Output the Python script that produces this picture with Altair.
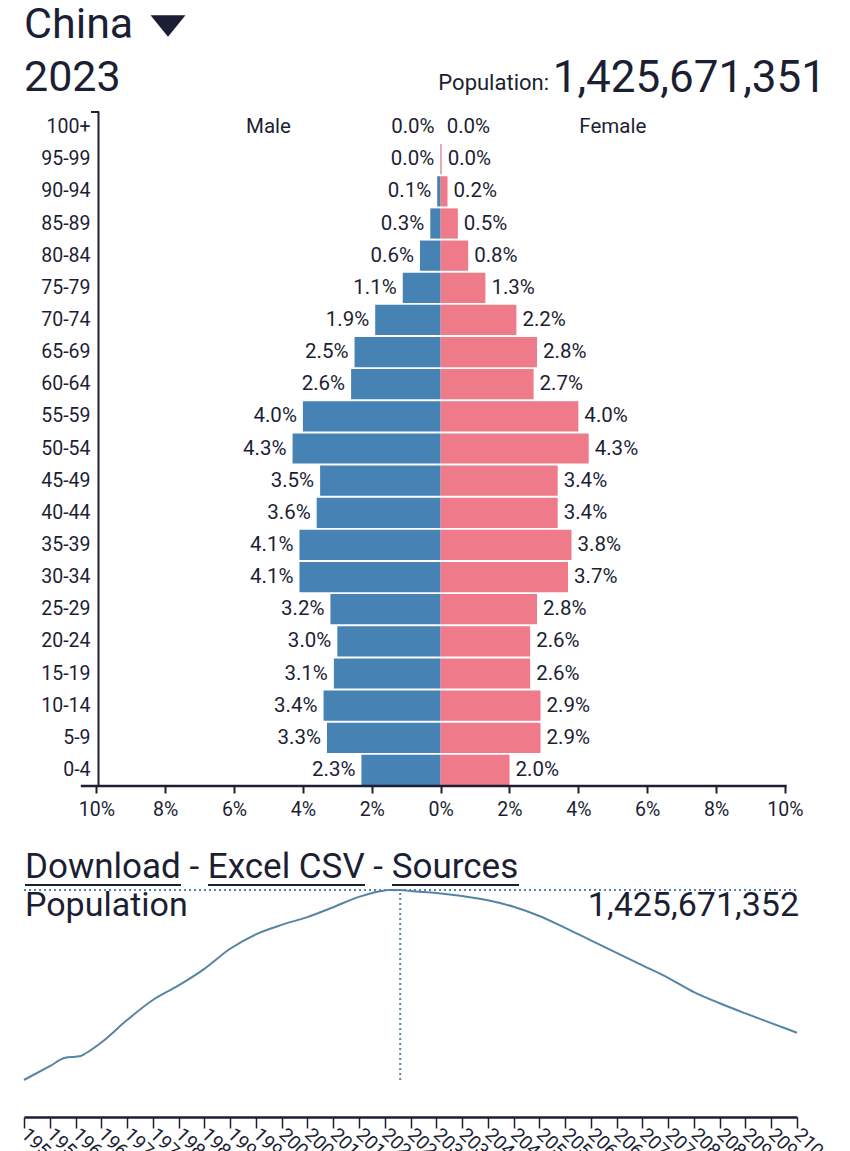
import altair as alt
import pandas as pd

# ---------------- data ----------------
ages = ["0-4", "5-9", "10-14", "15-19", "20-24", "25-29", "30-34", "35-39",
        "40-44", "45-49", "50-54", "55-59", "60-64", "65-69", "70-74", "75-79",
        "80-84", "85-89", "90-94", "95-99", "100+"]
male_pct = [2.3, 3.3, 3.4, 3.1, 3.0, 3.2, 4.1, 4.1, 3.6, 3.5, 4.3, 4.0,
            2.6, 2.5, 1.9, 1.1, 0.6, 0.3, 0.1, 0.01, 0.0]
female_pct = [2.0, 2.9, 2.9, 2.6, 2.6, 2.8, 3.7, 3.8, 3.4, 3.4, 4.3, 4.0,
              2.7, 2.8, 2.2, 1.3, 0.8, 0.5, 0.2, 0.03, 0.0]
header_labels = ["Male", "Female"]
header_pos = [-5, 5]
x_ticks = [-10, -8, -6, -4, -2, 0, 2, 4, 6, 8, 10]

years = [1950, 1955, 1958, 1960, 1961, 1962, 1965, 1970, 1975, 1980, 1985,
         1990, 1995, 2000, 2005, 2010, 2015, 2020, 2021, 2022, 2023, 2025,
         2030, 2035, 2040, 2045, 2050, 2055, 2060, 2065, 2070, 2075, 2080,
         2085, 2090, 2095, 2100]
population_m = [544, 608, 647, 652, 655, 668, 718, 822, 915, 983, 1060,
                 1153, 1220, 1264, 1300, 1346, 1394, 1424, 1425.9, 1425.2,
                 1425.7, 1421, 1412, 1398, 1378, 1348, 1305, 1250, 1192,
                 1134, 1076, 1018, 952, 900, 853, 808, 763]
current_year = 2023
country = "China"
year_label = "2023"
total_population = "1,425,671,351"
series_total = "1,425,671,352"
links_text = "Download - Excel CSV - Sources"

# ---------------- style ----------------
FONT = "Roboto"
INK = "#1c1f33"
MALE = "#4682B4"
FEMALE = "#EE7A8A"
LINE = "#5585a5"
W = 773
H1 = 675
H2 = 227

rows = []
for a, m, f in zip(ages, male_pct, female_pct):
    rows.append({"age": a, "sex": "Male", "value": m, "signed": -m})
    rows.append({"age": a, "sex": "Female", "value": f, "signed": f})
pyr = pd.DataFrame(rows)
pyr["label"] = [f"{v:.1f}%" for v in pyr["value"]]
age_order = ages[::-1]

xscale = alt.Scale(domain=[-12.1, 10.35], nice=False, zero=False)
xaxis = alt.Axis(values=x_ticks, labelExpr="abs(datum.value) + '%'",
                 title=None, grid=False, domain=False, tickSize=7,
                 tickWidth=2, tickColor=INK, labelFont=FONT,
                 labelFontSize=19.5, labelColor=INK, labelPadding=7)
yaxis = alt.Axis(title=None, offset=-74, domainColor=INK, domainWidth=2,
                 ticks=False, labelFont=FONT, labelFontSize=19.5,
                 labelColor=INK, labelPadding=8)


def X(field="signed"):
    return alt.X(f"{field}:Q", scale=xscale, axis=xaxis)


def Y():
    return alt.Y("age:N", sort=age_order,
                 scale=alt.Scale(paddingInner=0.06, paddingOuter=0.03),
                 axis=yaxis)


base = alt.Chart(pyr)
bars = base.mark_bar().encode(
    x=X(), x2=alt.datum(0), y=Y(),
    color=alt.Color("sex:N", scale=alt.Scale(domain=["Male", "Female"],
                                             range=[MALE, FEMALE]),
                    legend=None))
male_txt = base.transform_filter("datum.sex == 'Male'").mark_text(
    align="right", dx=-6, font=FONT, fontSize=20.5, color=INK
).encode(x=X(), y=Y(), text="label:N")
female_txt = base.transform_filter("datum.sex == 'Female'").mark_text(
    align="left", dx=6, font=FONT, fontSize=20.5, color=INK
).encode(x=X(), y=Y(), text="label:N")
headers = alt.Chart(pd.DataFrame({"signed": header_pos, "txt": header_labels,
                                  "age": ["100+", "100+"]})).mark_text(
    font=FONT, fontSize=20.5, color=INK
).encode(x=X(), y=Y(), text="txt:N")

axis_line = alt.Chart(pd.DataFrame({"a": [x_ticks[0] - 0.45],
                                    "b": [x_ticks[-1] + 0.05]})).mark_rule(
    color=INK, strokeWidth=2.5
).encode(x=alt.X("a:Q", scale=xscale, axis=xaxis), x2="b:Q",
         y=alt.value(H1))
top_tick = alt.Chart(pd.DataFrame({"a": [0]})).mark_rule(
    color=INK, strokeWidth=2
).encode(x=alt.value(67), x2=alt.value(75), y=alt.value(1))

one = pd.DataFrame({"t": [0]})
title_country = alt.Chart(one).mark_text(
    text=country, font=FONT, fontSize=43, color=INK, align="left",
    baseline="alphabetic").encode(x=alt.value(0), y=alt.value(-73))
triangle = alt.Chart(one).mark_point(
    shape="M-1,-0.62L1,-0.62L0,0.62Z", filled=True, opacity=1, size=1225,
    color=INK, strokeWidth=0).encode(x=alt.value(144), y=alt.value(-85))
title_year = alt.Chart(one).mark_text(
    text=year_label, font=FONT, fontSize=43, color=INK, align="left",
    baseline="alphabetic").encode(x=alt.value(0), y=alt.value(-20))
pop_lbl = alt.Chart(one).mark_text(
    text="Population:", font=FONT, fontSize=22, color=INK, align="right",
    baseline="alphabetic").encode(x=alt.value(525), y=alt.value(-21))
pop_val = alt.Chart(one).mark_text(
    text=total_population, font=FONT, fontSize=44, color=INK, align="right",
    baseline="alphabetic").encode(x=alt.value(802), y=alt.value(-19))

pyramid = alt.layer(bars, male_txt, female_txt, headers, axis_line, top_tick,
                    title_country, triangle, title_year, pop_lbl, pop_val
                    ).properties(width=W, height=H1)

# ---------------- population line ----------------
ts = pd.DataFrame({"year": years, "pop": population_m})
lx = alt.Scale(domain=[years[0], years[-1]], nice=False, zero=False)
ly = alt.Scale(domain=[372, max(population_m)], nice=False, zero=False)
lxaxis = alt.Axis(values=list(range(1950, 2101, 5)), format="d", title=None,
                  grid=False, labelAngle=45, labelAlign="left",
                  labelBaseline="middle", labelFont=FONT, labelFontSize=19,
                  labelColor=INK, tickSize=11, tickColor=INK, tickWidth=1.5,
                  domainColor=INK, domainWidth=2.5, labelPadding=3,
                  labelOverlap=False, labelFlush=False, labelBound=False)


def LX(field="year"):
    return alt.X(f"{field}:Q", scale=lx, axis=lxaxis)


def LY(field="pop"):
    return alt.Y(f"{field}:Q", scale=ly, axis=None)


line = alt.Chart(ts).mark_line(color=LINE, strokeWidth=2,
                               interpolate="monotone").encode(x=LX(), y=LY())
peak = max(population_m)
hline = alt.Chart(pd.DataFrame({"year": [years[0]], "year2": [years[-1]],
                                "pop": [peak]})).mark_rule(
    color=LINE, strokeWidth=2, strokeDash=[2, 3]
).encode(x=LX(), x2="year2:Q", y=LY())
vline = alt.Chart(pd.DataFrame({"year": [current_year],
                                "pop": [min(population_m)],
                                "pop2": [peak]})).mark_rule(
    color=LINE, strokeWidth=2, strokeDash=[2, 3]
).encode(x=LX(), y=LY(), y2="pop2:Q")

links = alt.Chart(one).mark_text(
    text=links_text, font=FONT, fontSize=35, color=INK, align="left",
    baseline="alphabetic").encode(x=alt.value(1), y=alt.value(-12))
underline_spans = [(1, 157), (184, 341), (368, 495)]
underlines = [
    alt.Chart(one).mark_rule(color=INK, strokeWidth=2).encode(
        x=alt.value(a), x2=alt.value(b), y=alt.value(-5))
    for a, b in underline_spans
]
line_title = alt.Chart(one).mark_text(
    text="Population", font=FONT, fontSize=34, color=INK, align="left",
    baseline="alphabetic").encode(x=alt.value(1), y=alt.value(26))
line_val = alt.Chart(one).mark_text(
    text=series_total, font=FONT, fontSize=34, color=INK, align="right",
    baseline="alphabetic").encode(x=alt.value(775), y=alt.value(26))

popline = alt.layer(line, hline, vline, links, line_title, line_val,
                    *underlines).properties(width=W, height=H2)

chart = alt.vconcat(pyramid, popline, spacing=31).properties(
    padding={"left": 8, "top": -4, "right": 0, "bottom": 0},
    background="white"
).configure_view(stroke=None)

chart.save("out.html", embed_options={"renderer": "svg", "actions": False})
